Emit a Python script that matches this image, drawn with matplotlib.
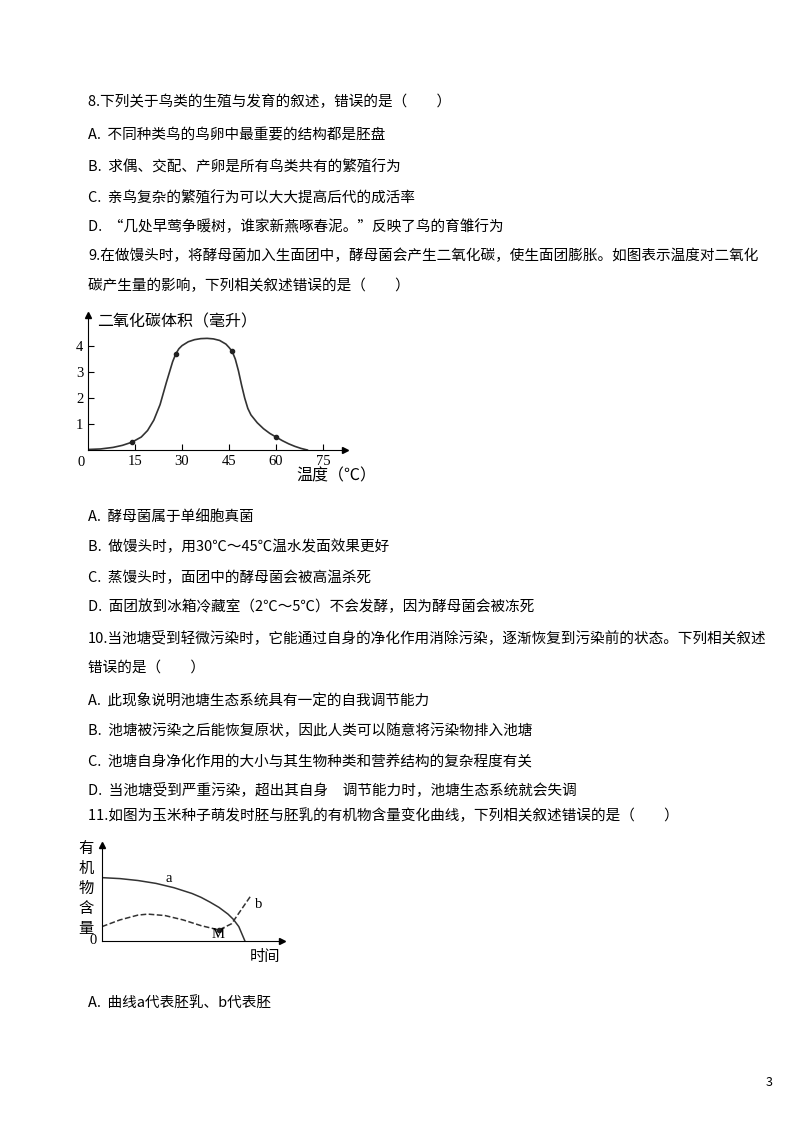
import matplotlib.pyplot as plt

plt.rcParams['font.family'] = ['Noto Sans CJK SC', 'DejaVu Sans']

# question text lines (page y in px, text)
lines = [
    (102, '8.下列关于鸟类的生殖与发育的叙述，错误的是（　　）'),
    (135, 'A.  不同种类鸟的鸟卵中最重要的结构都是胚盘'),
    (167, 'B.  求偶、交配、产卵是所有鸟类共有的繁殖行为'),
    (198, 'C.  亲鸟复杂的繁殖行为可以大大提高后代的成活率'),
    (227, 'D.  “几处早莺争暖树，谁家新燕啄春泥。”反映了鸟的育雏行为'),
    (256, '9.在做馒头时，将酵母菌加入生面团中，酵母菌会产生二氧化碳，使生面团膨胀。如图表示温度对二氧化'),
    (286, '碳产生量的影响，下列相关叙述错误的是（　　）'),
    (517, 'A.  酵母菌属于单细胞真菌'),
    (547, 'B.  做馒头时，用30℃～45℃温水发面效果更好'),
    (578, 'C.  蒸馒头时，面团中的酵母菌会被高温杀死'),
    (607, 'D.  面团放到冰箱冷藏室（2℃～5℃）不会发酵，因为酵母菌会被冻死'),
    (638, '10.当池塘受到轻微污染时，它能通过自身的净化作用消除污染，逐渐恢复到污染前的状态。下列相关叙述'),
    (668, '错误的是（　　）'),
    (700, 'A.  此现象说明池塘生态系统具有一定的自我调节能力'),
    (731, 'B.  池塘被污染之后能恢复原状，因此人类可以随意将污染物排入池塘'),
    (762, 'C.  池塘自身净化作用的大小与其生物种类和营养结构的复杂程度有关'),
    (790, 'D.  当池塘受到严重污染，超出其自身　调节能力时，池塘生态系统就会失调'),
    (816, '11.如图为玉米种子萌发时胚与胚乳的有机物含量变化曲线，下列相关叙述错误的是（　　）'),
    (1003, 'A.  曲线a代表胚乳、b代表胚'),
]

# chart 1: temperature vs CO2 volume
temp = [0, 4, 8, 11, 14, 17, 19, 21, 23, 25, 27, 28, 29, 30, 32, 34, 36, 38, 40, 42, 44, 45, 46,
        47, 48, 49, 50, 51, 52, 54, 56, 58, 60, 62, 64, 66, 68, 70]
co2 = [0.02, 0.04, 0.1, 0.18, 0.3, 0.5, 0.75, 1.15, 1.75, 2.6, 3.4, 3.7, 3.9, 4.02, 4.17, 4.25, 4.29,
       4.3, 4.28, 4.22, 4.08, 3.95, 3.8, 3.5, 3.05, 2.5, 2.0, 1.6, 1.35, 1.05, 0.82, 0.64, 0.5, 0.36,
       0.24, 0.14, 0.06, 0.0]
dot_t = [14, 28, 46, 60]
dot_v = [0.3, 3.7, 3.8, 0.5]
xt = [15, 30, 45, 60, 75]
yt = [1, 2, 3, 4]

# chart 2: organic matter over time
a_x = [0, 1, 2, 3, 4, 5, 5.5, 6, 6.5, 7, 7.3, 7.6, 7.94]
a_y = [6.6, 6.5, 6.3, 6.0, 5.55, 4.95, 4.55, 4.05, 3.5, 2.8, 2.25, 1.5, 0.0]
b_x = [0, 1, 2, 2.55, 3.5, 4.5, 5.5, 6.5, 7.2, 8.3]
b_y = [1.5, 2.2, 2.7, 2.8, 2.65, 2.2, 1.6, 1.15, 1.8, 4.8]

fig = plt.figure(figsize=(8, 11.32), dpi=100)
W, H = 800, 1132

for y, t in lines:
    fig.text(88 / W, 1 - y / H, t, fontsize=10.5, va='center', ha='left')
fig.text(766 / W, 1 - 1082 / H, '3', fontsize=9, va='center')

def arrow_axes(ax):
    for s in ['top', 'right']:
        ax.spines[s].set_visible(False)
    ax.plot(1, 0, '>k', transform=ax.transAxes, clip_on=False, ms=5)
    ax.plot(0, 1, '^k', transform=ax.transAxes, clip_on=False, ms=5)

ax1 = fig.add_axes([88 / W, 1 - 450 / H, 257 / W, 135 / H])
ax1.plot(temp, co2, color='#333', lw=1.2)
ax1.plot(dot_t, dot_v, 'o', color='#222', ms=3)
ax1.set_xlim(0, 82)
ax1.set_ylim(0, 5.2)
ax1.set_xticks(xt)
ax1.set_yticks(yt)
ax1.tick_params(labelsize=10.5, length=4, direction='in')
for lb in ax1.get_xticklabels() + ax1.get_yticklabels():
    lb.set_family('Liberation Serif')
ax1.text(-1, -0.5, '0', ha='right', va='center', fontsize=10.5, family='Liberation Serif')
arrow_axes(ax1)
fig.text(97 / W, 1 - 322 / H, '二氧化碳体积（毫升）', fontsize=11.5, va='center')
fig.text(296 / W, 1 - 476 / H, '温度（℃）', fontsize=11.5, va='center')

ax2 = fig.add_axes([102 / W, 1 - 941 / H, 180 / W, 96 / H])
ax2.plot(a_x, a_y, color='#333', lw=1.1)
ax2.plot(b_x, b_y, '--', color='#333', lw=1.1)
ax2.plot([6.5], [1.15], 'o', color='#222', ms=3)
ax2.text(3.5, 6.1, 'a', fontsize=10.5, family='Liberation Serif')
ax2.text(8.5, 3.4, 'b', fontsize=10.5, family='Liberation Serif')
ax2.text(6.45, 0.3, 'M', fontsize=10.5, ha='center', family='Liberation Serif')
ax2.set_xlim(0, 10)
ax2.set_ylim(0, 10)
ax2.set_xticks([])
ax2.set_yticks([])
arrow_axes(ax2)
for i, ch in enumerate('有机物含量'):
    fig.text(86 / W, 1 - (848 + i * 20) / H, ch, fontsize=11, ha='center', va='center')
fig.text(93 / W, 1 - 940 / H, '0', fontsize=10.5, ha='center', va='center', family='Liberation Serif')
fig.text(250 / W, 1 - 957 / H, '时间', fontsize=11, va='center')

fig.savefig('out.png', dpi=100)
